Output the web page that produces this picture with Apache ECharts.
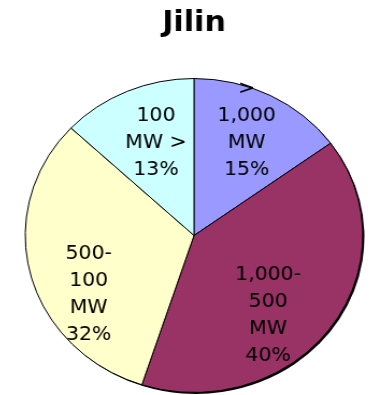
<!DOCTYPE html>
<html>
<head>
<meta charset="utf-8">
<script src="https://cdn.jsdelivr.net/npm/echarts@6/dist/echarts.min.js"></script>
<style>
    html, body { margin: 0; padding: 0; background: #fff; overflow: hidden; }
    /* the original pie is a little wider than tall */
    #chart { width: 388px; height: 395px; transform: scaleX(1.075); transform-origin: 194px 0; }
</style>
</head>
<body>
<div id="chart"></div>
<script>
    const categories = ['> 1,000 MW', '1,000-500 MW', '500-100 MW', '100 MW >']
    const shares = [15, 40, 32, 13]
    const labelLines = [['>', '1,000', 'MW'], ['1,000-', '500', 'MW'], ['500-', '100', 'MW'], ['100', 'MW >']]
    const colors = ['#9999FF', '#993366', '#FFFFCC', '#CCFFFF']
    // nudges so labels sit where Excel put them
    const labelShift = [[12, -33], [3, 32], [-19, 39], [-3, -18]]

    const center = [194, 235.5]
    const radius = 157

    let myChart = echarts.init(document.getElementById('chart'))
    myChart.setOption({
        animation: false,
        title: {
            text: 'Jilin',
            left: 'center',
            top: 5,
            textStyle: { fontFamily: 'DejaVu Sans', fontWeight: 'bold', fontSize: 28, color: '#000' }
        },
        series: [{
            // dark rim under the pie
            type: 'pie',
            silent: true,
            center: [center[0] + 1.5, center[1] + 1.5],
            radius: radius,
            startAngle: 90,
            label: { show: false },
            labelLine: { show: false },
            itemStyle: { color: '#000' },
            data: shares.map((v, i) => ({ value: v, name: categories[i] }))
        }, {
            type: 'pie',
            center: center,
            radius: radius,
            startAngle: 90,
            clockwise: true,
            itemStyle: { borderColor: '#000', borderWidth: 1 },
            label: {
                show: true,
                position: 'inside',
                fontFamily: 'DejaVu Sans',
                fontSize: 19,
                lineHeight: 27,
                color: '#000',
                formatter: (p) => labelLines[p.dataIndex].concat(p.value + '%').join('\n')
            },
            labelLayout: (p) => ({ dx: labelShift[p.dataIndex][0], dy: labelShift[p.dataIndex][1] }),
            data: shares.map((v, i) => ({ value: v, name: categories[i], itemStyle: { color: colors[i] } }))
        }]
    })
</script>
</body>
</html>
